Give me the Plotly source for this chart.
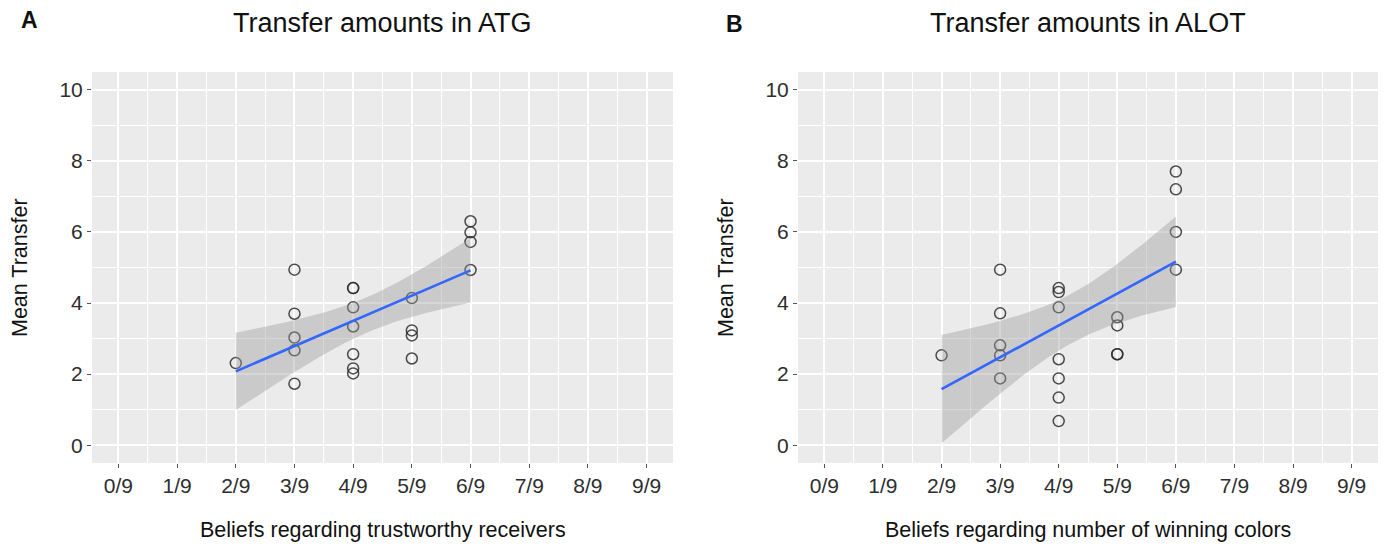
import numpy as np
import plotly.graph_objects as go

# ---------------- data ----------------
# Belief values are in ninths (numerator k of k/9)
atg_belief = [2, 3, 3, 3, 3, 3, 4, 4, 4, 4, 4, 4, 4, 5, 5, 5, 5, 6, 6, 6, 6]
atg_transfer = [2.31, 4.94, 3.70, 3.03, 2.67, 1.73,
                4.42, 4.42, 3.88, 3.34, 2.56, 2.16, 2.02,
                4.14, 3.23, 3.09, 2.44,
                6.30, 5.99, 5.72, 4.93]

alot_belief = [2, 3, 3, 3, 3, 3, 4, 4, 4, 4, 4, 4, 4, 5, 5, 5, 5, 6, 6, 6, 6]
alot_transfer = [2.53, 4.94, 3.71, 2.81, 2.53, 1.88,
                 4.42, 4.31, 3.88, 2.42, 1.88, 1.34, 0.68,
                 3.60, 3.37, 2.56, 2.56,
                 7.70, 7.20, 6.00, 4.94]

tick_vals = list(range(10))
tick_text = [f"{k}/9" for k in tick_vals]

titles = ["Transfer amounts in ATG", "Transfer amounts in ALOT"]
panel_labels = ["A", "B"]
x_titles = ["Beliefs regarding trustworthy receivers",
            "Beliefs regarding number of winning colors"]
y_title = "Mean Transfer"

T_CRIT = 2.093  # t(0.975, df=19)

W, H = 1386, 545


def lm_fit(x, y, n_grid=80):
    x = np.asarray(x, float)
    y = np.asarray(y, float)
    n = len(x)
    xb = x.mean()
    sxx = ((x - xb) ** 2).sum()
    b1 = ((x - xb) * (y - y.mean())).sum() / sxx
    b0 = y.mean() - b1 * xb
    resid = y - (b0 + b1 * x)
    s = np.sqrt((resid ** 2).sum() / (n - 2))
    xg = np.linspace(x.min(), x.max(), n_grid)
    yg = b0 + b1 * xg
    se = s * np.sqrt(1.0 / n + (xg - xb) ** 2 / sxx)
    return xg, yg, yg - T_CRIT * se, yg + T_CRIT * se


fig = go.Figure()

datasets = [(atg_belief, atg_transfer), (alot_belief, alot_transfer)]
for i, (bx, ty) in enumerate(datasets):
    xa = "x" if i == 0 else "x2"
    ya = "y" if i == 0 else "y2"
    fig.add_trace(go.Scatter(
        x=bx, y=ty, mode="markers", xaxis=xa, yaxis=ya,
        marker=dict(symbol="circle-open", size=11,
                    color="rgba(45,45,45,0.85)", line=dict(width=1.5)),
        showlegend=False, hoverinfo="x+y"))
    xg, yg, lo, hi = lm_fit(bx, ty)
    fig.add_trace(go.Scatter(
        x=np.concatenate([xg, xg[::-1]]), y=np.concatenate([hi, lo[::-1]]),
        mode="lines", fill="toself", fillcolor="rgba(153,153,153,0.4)",
        line=dict(width=0), xaxis=xa, yaxis=ya, showlegend=False,
        hoverinfo="skip"))
    fig.add_trace(go.Scatter(
        x=xg, y=yg, mode="lines", line=dict(color="#3366FF", width=2.6),
        xaxis=xa, yaxis=ya, showlegend=False))

font_family = "Liberation Sans, Arial, sans-serif"
tick_font = dict(family=font_family, size=21, color="#2e2e2e")

xaxis_common = dict(
    range=[-0.45, 9.45], tickmode="array", tickvals=tick_vals, ticktext=tick_text,
    showgrid=True, gridcolor="white", gridwidth=1.8, zeroline=False,
    ticks="outside", ticklen=4, tickwidth=1, tickcolor="#555",
    tickfont=tick_font, showline=False,
    minor=dict(tickmode="linear", tick0=0.5, dtick=1, showgrid=True,
               gridcolor="white", gridwidth=0.8, ticks=""),
)
yaxis_common = dict(
    range=[-0.5, 10.5], tickmode="linear", tick0=0, dtick=2,
    showgrid=True, gridcolor="white", gridwidth=1.8, zeroline=False,
    ticks="outside", ticklen=4, tickwidth=1, tickcolor="#555",
    tickfont=tick_font, showline=False,
    minor=dict(tickmode="linear", tick0=1, dtick=2, showgrid=True,
               gridcolor="white", gridwidth=0.8, ticks=""),
    domain=[1 - 463 / H, 1 - 72 / H],
)

fig.update_layout(
    width=W, height=H,
    margin=dict(l=0, r=0, t=0, b=0),
    paper_bgcolor="white", plot_bgcolor="#EBEBEB",
    font=dict(family=font_family, color="#222"),
    xaxis=dict(domain=[92 / W, 673 / W], anchor="y", **xaxis_common),
    yaxis=dict(anchor="x", **yaxis_common),
    xaxis2=dict(domain=[798 / W, 1378 / W], anchor="y2", **xaxis_common),
    yaxis2=dict(anchor="x2", **yaxis_common),
    showlegend=False,
)

centers = [(92 + 673) / 2, (798 + 1378) / 2]
ytitle_x = [20, 726]
label_pos = [(29, 20), (734, 24)]
for i in range(2):
    fig.add_annotation(text=titles[i], x=centers[i] / W, y=1 - 23 / H,
                       xref="paper", yref="paper", showarrow=False,
                       xanchor="center", yanchor="middle",
                       font=dict(family=font_family, size=27, color="#111"))
    fig.add_annotation(text=f"<b>{panel_labels[i]}</b>", x=label_pos[i][0] / W,
                       y=1 - label_pos[i][1] / H, xref="paper", yref="paper",
                       showarrow=False, xanchor="center", yanchor="middle",
                       font=dict(family=font_family, size=23, color="#111"))
    fig.add_annotation(text=x_titles[i], x=centers[i] / W, y=1 - 530 / H,
                       xref="paper", yref="paper", showarrow=False,
                       xanchor="center", yanchor="middle",
                       font=dict(family=font_family, size=21.5, color="#111"))
    fig.add_annotation(text=y_title, x=ytitle_x[i] / W, y=1 - 268 / H,
                       xref="paper", yref="paper", showarrow=False,
                       textangle=-90, xanchor="center", yanchor="middle",
                       font=dict(family=font_family, size=21.5, color="#111"))

fig.write_html("out.html",
               config={"displayModeBar": False},
               post_script="document.body.style.margin='0px';"
                           "document.body.style.overflow='hidden';")
